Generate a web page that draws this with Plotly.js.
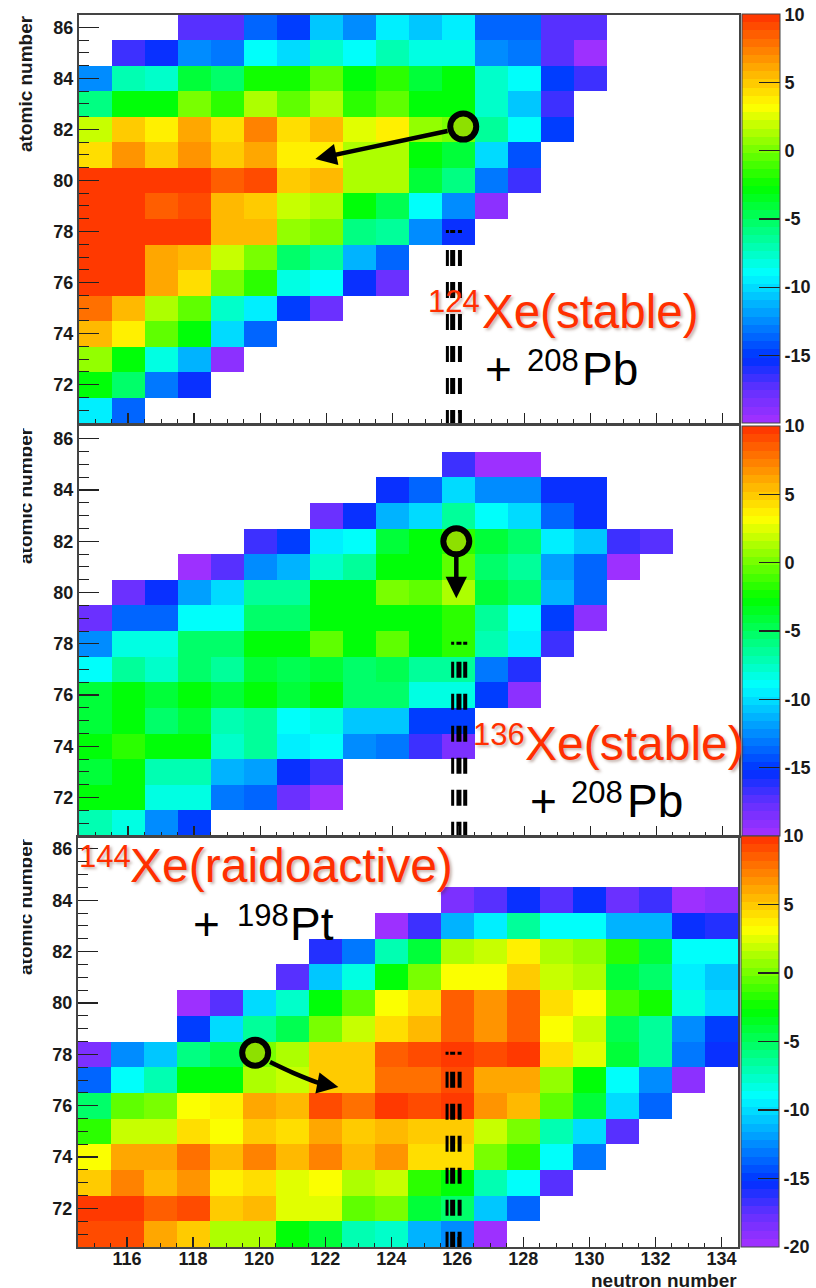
<!DOCTYPE html>
<html><head><meta charset="utf-8">
<script src="https://cdn.plot.ly/plotly-3.0.1.min.js"></script>
<style>html,body{margin:0;padding:0;background:#fff}#chart{width:816px;height:1288px}</style>
</head><body><div id="chart"></div>
<script>
const _ = null;
const neutronNumbers = [115,116,117,118,119,120,121,122,123,124,125,126,127,128,129,130,131,132,133,134];
const atomicNumbers = [86,85,84,83,82,81,80,79,78,77,76,75,74,73,72,71];

const values124 = [
[_,_,_,-17.5,-17.5,-14,-15,-10.8,-12.5,-9.7,-11,-9.3,-13.5,-13.5,-17.5,-17.5],
[_,-16.6,-15.7,-12.5,-13,-9,-10.3,-7.5,-9,-7.2,-8.5,-8.1,-12.5,-13,-17.5,-19.8],
[-12.5,-7.2,-7.5,-4.3,-5.1,-2.2,-2.2,-0.8,-2.7,-1.6,-3.8,-2.7,-7.5,-9,-15,-17],
[-5.9,-2.7,-2.7,-0.1,-1.6,1.1,-0.8,1.1,-1.6,-0.5,-2.7,-2.7,-7.5,-10.8,-17],
[2,4.8,3.6,6.2,4.3,7.1,4.5,5.5,2.8,3.8,0.6,0.3,-6.3,-9,-15],
[4.5,6.8,5,6.8,4.8,6.2,3.6,3.6,1.1,1.1,-2.7,-3.8,-10.3,-14.6],
[9.9,9.9,9.6,9.9,8.3,9.3,5,5.5,1.3,1.3,-4.3,-5.9,-13,-17],
[9.6,9.9,8.3,9,5.5,5,1.8,1.3,-2.7,-4.7,-9,-12.5,-19],
[9.9,9.9,9.6,9.9,5.5,5.5,0.6,-0.1,-5.9,-6.7,-12.5,-15.4],
[9.9,9.9,6.2,5.5,1.8,-0.1,-5.1,-6.7,-11.5,-14],
[9.9,9.9,6.2,4.3,-0.1,-1.6,-8.3,-9,-15.7,-18],
[8,5.5,1.1,-0.8,-7.5,-9.4,-15.2,-18],
[5.5,3.6,-0.8,-2.7,-10.3,-13.5],
[0.6,-2.7,-8.3,-11.5,-19],
[-2.7,-5.5,-13,-15.8],
[-9.7,-14]
];
const values136 = [
[],
[_,_,_,_,_,_,_,_,_,_,_,-17,-19.8,-19.8],
[_,_,_,_,_,_,_,_,_,-15.7,-13.5,-10.3,-12.5,-12.5,-15.7,-15.7],
[_,_,_,_,_,_,_,-18,-15.7,-11.5,-10,-6.3,-9,-10.3,-14,-15.7],
[_,_,_,_,_,-16.6,-15,-9.7,-8.7,-4.3,-2.7,-1.6,-4.3,-5.1,-9.4,-10.8,-16.6,-17.5],
[_,_,_,-19.8,-17.5,-12.5,-11.2,-7.5,-6.5,-2.7,-2.7,-0.5,-5.5,-6.7,-12,-14,-19.8],
[_,-18,-15.7,-11.7,-10.3,-6.7,-6.3,-2.7,-2.7,0,-0.8,1.5,-3.8,-5.5,-11.5,-13.5],
[-18,-14,-13.5,-9,-9,-5.5,-5.5,-2.7,-2.7,-2.7,-2.7,-1.6,-6.7,-9,-15,-19],
[-12.5,-8.3,-8.3,-5.1,-5.1,-2.7,-2.7,-0.5,-2.7,-0.5,-2.7,-1.6,-7.2,-9.4,-17],
[-9,-6.3,-7.5,-5.1,-6.7,-4.3,-4.7,-3.8,-5.1,-4.7,-6.7,-6.7,-13,-16.3],
[-4.3,-2.7,-3.8,-2.7,-3.8,-2.7,-4.3,-2.7,-5.5,-5.5,-8.5,-8.3,-15,-19],
[-3.8,-2.7,-5.1,-3.8,-7.2,-6.7,-8.7,-8.3,-10.8,-10.8,-14.8,-15.2],
[-2.7,-1.4,-2.7,-2.7,-7.5,-6.3,-9.7,-9,-12.8,-13.3,-17,-18.5],
[-3.8,-2.7,-7,-7,-11.2,-12,-15.7,-16.6],
[-2.7,-2.7,-8.1,-8.5,-13.3,-14,-18,-19.8],
[-7.2,-8.3,-12.8,-15]
];
const values144 = [
[],
[],
[_,_,_,_,_,_,_,_,_,_,_,-18.5,-17.5,-15.5,-17.3,-15.5,-18,-16.6,-19.8,-19],
[_,_,_,_,_,_,_,_,_,-19.8,-17,-11.5,-9.7,-6.7,-9,-9,-11.5,-11.5,-15.5,-16.2],
[_,_,_,_,_,_,_,-16.3,-13,-7,-4.3,1.1,2,3.8,1.1,0.6,-2,-3.8,-9,-9],
[_,_,_,_,_,_,-17.5,-10.8,-8.5,-2.7,0.3,3.2,3.2,4.8,1.8,1.1,-3.8,-5.5,-9.7,-10.8],
[_,_,_,-19.8,-17.2,-10,-7.5,-2.7,-0.8,3.2,4.3,8.3,6.8,8.3,4.5,3.2,-1.3,-2.3,-8.3,-10],
[_,_,_,-14.8,-10.3,-6.5,-4.7,0,1.6,4.3,5.5,8.3,6.8,8.3,3.2,1.8,-4.7,-6.5,-12.3,-14.8],
[-18.5,-12.8,-10.6,-5.9,-4.7,-0.1,1.1,5,5,8.3,8.8,9.6,9,9.9,4.3,2.2,-4.3,-6.5,-13,-15.4],
[-14,-8.7,-7,-2.7,-2.7,1.3,2,5,5,7.7,7.7,8.8,6,6,0.6,-2.7,-9,-12.3,-19],
[-5.5,-0.8,-0.1,3.2,3.8,6,5.5,8.8,7.7,9.9,8.8,9.6,6.5,5.5,-0.8,-4.3,-10.3,-14],
[-1.4,1.6,1.6,4.3,3.2,4.8,4.3,6,4.8,5.8,4.8,4.8,1.8,0,-7.2,-10.3,-17.5],
[2.9,6,6,7.7,5.5,7.1,5.5,7.1,5.5,6.5,4.5,4.5,0,-1.6,-9,-13.3],
[5,7.4,5.3,6.5,3.8,4.3,2.5,3.2,1.1,1.8,-1.6,-2.7,-7,-9,-17.2],
[9.9,9.9,8.3,9,4.8,5.3,2.2,2.8,-0.5,-0.1,-4.3,-5.1,-10.6,-13.5],
[9,9,6,4.8,1.5,1.1,-2.7,-3.8,-7.2,-7.8,-11.5,-12.8,-19.8]
];

const paletteValues = [-20,-17.5,-15.3,-9,-2.7,3.2,10];
const paletteColors = [[165,48,255],[96,48,255],[0,48,255],[0,255,255],[0,255,0],[255,255,0],[255,48,0]];
const ticksUpper = [-15,-10,-5,0,5,10];
const ticksLower = [-20,-15,-10,-5,0,5,10];

function pad(rows){return rows.map(r=>{const c=r.slice();while(c.length<neutronNumbers.length)c.push(null);return c;});}
function colorAt(v){
  for(let i=0;i<paletteValues.length-1;i++){
    if(v<=paletteValues[i+1]){
      const t=(v-paletteValues[i])/(paletteValues[i+1]-paletteValues[i]);
      const a=paletteColors[i],b=paletteColors[i+1];
      return 'rgb('+[0,1,2].map(k=>Math.round(a[k]+t*(b[k]-a[k]))).join(',')+')';
    }
  }
  return 'rgb(255,48,0)';
}
const BANDS=50, colorscale=[];
for(let i=0;i<BANDS;i++){
  const c=colorAt(-20+30*(i+0.5)/BANDS);
  colorscale.push([i/BANDS,c]);colorscale.push([(i+1)/BANDS,c]);
}

const W=816,H=1288;
const FONT='"Liberation Sans", Arial, sans-serif';
const panels=[
 {z:values124,left:78.5,right:739,top:14.5,bottom:423,cbLeft:742,cbRight:780,ticks:ticksUpper,x:'x',y:'y',labels:false},
 {z:values136,left:78.5,right:739,top:426,bottom:836,cbLeft:742,cbRight:780,ticks:ticksUpper,x:'x2',y:'y2',labels:false},
 {z:values144,left:77.5,right:738,top:836,bottom:1247,cbLeft:741,cbRight:779,ticks:ticksLower,x:'x3',y:'y3',labels:true}
];

const tickFont={family:FONT,size:18,color:'#1a1a1a',weight:'bold'};
const data=[], layout={
 width:W,height:H,margin:{l:0,r:0,t:0,b:0,autoexpand:false},paper_bgcolor:'#fff',plot_bgcolor:'#fff',showlegend:false,
 annotations:[],font:{family:FONT}
};

panels.forEach((p,i)=>{
 const sfx=i===0?'':String(i+1);
 layout['xaxis'+sfx]={anchor:p.y,domain:[p.left/W,p.right/W],range:[114.5,134.5],tickmode:'array',
  tickvals:[116,118,120,122,124,126,128,130,132,134],showticklabels:p.labels,tickfont:tickFont,ticklabelstandoff:-5,
  ticks:'inside',ticklen:10,tickwidth:1.2,tickcolor:'#222',showgrid:false,zeroline:false,
  showline:true,mirror:true,linecolor:'#444',linewidth:1.5,layer:'above traces',
  minor:{dtick:0.5,tick0:114.5,ticks:'inside',ticklen:4,tickwidth:1,tickcolor:'#222',showgrid:false}};
 layout['yaxis'+sfx]={anchor:p.x,domain:[1-p.bottom/H,1-p.top/H],range:[70.5,86.5],tickmode:'array',
  tickvals:[72,74,76,78,80,82,84,86],tickfont:tickFont,
  ticks:'inside',ticklen:20,tickwidth:1.2,tickcolor:'#222',showgrid:false,zeroline:false,
  showline:true,mirror:true,linecolor:'#444',linewidth:1.5,layer:'above traces',
  minor:{dtick:0.5,tick0:70.5,ticks:'inside',ticklen:10,tickwidth:1,tickcolor:'#222',showgrid:false}};
 data.push({type:'heatmap',x:neutronNumbers,y:atomicNumbers,z:pad(p.z),xaxis:p.x,yaxis:p.y,
  colorscale:colorscale,zmin:-20,zmax:10,hoverinfo:'skip',
  colorbar:{x:p.cbLeft/W,xanchor:'left',y:1-p.top/H,yanchor:'top',len:(p.bottom-p.top)/H,lenmode:'fraction',
   thickness:p.cbRight-p.cbLeft,thicknessmode:'pixels',xpad:0,ypad:0,ticks:'inside',ticklen:21,tickwidth:1.2,
   tickcolor:'#222',tickmode:'array',tickvals:p.ticks,ticktext:p.ticks.map(String),tickfont:tickFont,
   outlinecolor:'#444',outlinewidth:1}});
});

// magic number N=126 dashed guide bars
const guideX=[[125.67,125.83,126.05],[125.83,126.02,126.21],[125.69,125.86,126.07]];
const guideTop=[78.06,78.08,78.1];
const guideWidth=[3,5,4];
const guideDash='3px,17px,16px,16px,16px,16px,16px,16px,16px,16px,16px,16px,16px,16px';
panels.forEach((p,i)=>{
 guideX[i].forEach((gx,j)=>{
  data.push({type:'scatter',mode:'lines',x:[gx,gx],y:[guideTop[i],70.5],xaxis:p.x,yaxis:p.y,hoverinfo:'skip',
   line:{color:'#000',width:guideWidth[j],dash:guideDash}});
 });
});

// curved arrow shaft in the lower panel
data.push({type:'scatter',mode:'lines',x:[120.33,121.03,121.85,122.2],y:[77.7,77.28,76.87,76.78],xaxis:'x3',yaxis:'y3',
 hoverinfo:'skip',line:{color:'#000',width:4.5,shape:'spline'}});

// magic-nucleus circles
const circleN=[126.15,125.94,119.88], circleZ=[82.11,82.0,78.06];
panels.forEach((p,i)=>{
 data.push({type:'scatter',mode:'markers',x:[circleN[i]],y:[circleZ[i]],xaxis:p.x,yaxis:p.y,hoverinfo:'skip',
  marker:{symbol:'circle',size:26,color:'#8ee000',line:{color:'#000',width:6}}});
});

function arrow(xr,yr,fromN,fromZ,toN,toZ){
 layout.annotations.push({xref:xr,yref:yr,axref:xr,ayref:yr,x:toN,y:toZ,ax:fromN,ay:fromZ,text:'',showarrow:true,
  arrowhead:2,arrowsize:0.95,arrowwidth:4.5,arrowcolor:'#000',standoff:0,startstandoff:0});
}
arrow('x','y',125.72,81.95,121.67,80.84);
arrow('x2','y2',125.94,81.45,125.94,79.78);
arrow('x3','y3',122.0,76.83,122.4,76.73);

function label(str,px,baseline,color,size,shadow){
 layout.annotations.push({xref:'paper',yref:'paper',x:px/W,y:1-(baseline+0.212*size)/H,xanchor:'left',yanchor:'bottom',showarrow:false,
  align:'left',borderpad:0,borderwidth:0,text:str,font:{family:FONT,size:size,color:color,shadow:shadow||'none'}});
}
const SH='2px 2px 3px rgba(90,40,20,0.35)';
const RED='#ff2f00';
label('124',428,312,RED,31,SH); label('Xe(stable)',481.7,328,RED,47.5,SH);
label('+',485,385,'#000',46); label('208',526.7,371.7,'#000',31); label('Pb',581.7,385,'#000',46);
label('136',472.7,745,RED,31,SH); label('Xe(stable)',525,760,RED,48,SH);
label('+',530,817,'#000',46); label('208',571,803.3,'#000',31); label('Pb',626.7,817,'#000',46);
label('144',79,867,RED,31,SH); label('Xe(raidoactive)',130,881.7,RED,48,SH);
label('+',193,940,'#000',46); label('198',236.7,926,'#000',31); label('Pt',290,940,'#000',46);

// axis captions
[[15,'atomic number'],[427,'atomic number'],[838,'atomic number']].forEach(a=>{
 layout.annotations.push({xref:'paper',yref:'paper',x:25.5/W,y:1-a[0]/H,xanchor:'center',yanchor:'top',textangle:-90,
  showarrow:false,text:a[1],borderpad:0,borderwidth:0,font:{family:FONT,size:19,color:'#1a1a1a',weight:'bold'}});
});
layout.annotations.push({xref:'paper',yref:'paper',x:0,y:1-426/H,xanchor:'left',yanchor:'top',showarrow:false,
 text:' ',width:23,height:H-426,bgcolor:'#fff',borderpad:0,borderwidth:0});
layout.annotations.push({xref:'paper',yref:'paper',x:737/W,y:1-1280.5/H,xanchor:'right',yanchor:'middle',showarrow:false,
 text:'neutron number',borderpad:0,borderwidth:0,font:{family:FONT,size:19,color:'#1a1a1a',weight:'bold'}});

Plotly.newPlot('chart',data,layout,{displayModeBar:false,staticPlot:true});
</script></body></html>
